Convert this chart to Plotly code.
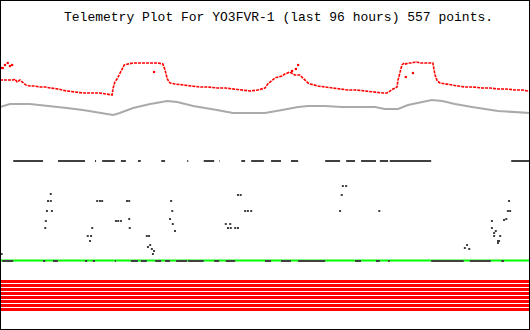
import plotly.graph_objects as go

# ---- data (time in hours over the 96 h window, values in raw telemetry units) ----
red_t = [0.0, 2.4, 2.7, 3.1, 3.6, 4.2, 4.7, 5.4, 6.3, 7.2, 8.2, 9.1, 10.5, 12.1, 13.6, 15.0, 16.7,
         18.1, 19.2, 20.3, 20.5, 20.8, 21.2, 21.4, 21.7, 22.1, 22.5, 23.2, 24.1, 25.0, 25.9, 26.8,
         27.7, 28.6, 29.5, 29.9, 30.3, 30.8, 31.7, 33.2, 34.8, 36.2, 37.7, 39.3, 40.8, 42.2, 43.8,
         45.3, 46.7, 48.0, 48.5, 48.9, 49.5, 49.8, 50.4, 51.1, 51.6, 52.2, 52.5, 53.1, 53.4, 54.3,
         54.7, 55.1, 55.3, 55.8, 56.2, 56.9, 57.6, 58.9, 60.1, 61.6, 63.0, 64.5, 66.1, 67.4, 68.5,
         69.4, 70.1, 70.6, 71.2, 71.6, 71.9, 72.1, 72.5, 72.6, 72.8, 73.2, 73.5, 73.9, 74.6, 75.2,
         75.5, 76.1, 77.0, 77.9, 78.4, 78.8, 79.2, 79.7, 80.6, 81.5, 83.0, 84.2, 85.7, 87.3, 88.8,
         90.2, 91.7, 93.3, 94.6, 95.6, 96.0]
red_v = [250, 250, 251, 248, 250, 247, 245, 244, 244, 243, 243, 242, 241, 239, 238, 237, 237,
         237, 236, 235, 242, 248, 251, 253, 256, 260, 265, 266, 267, 267, 267, 267,
         267, 267, 266, 260, 251, 247, 246, 245, 244, 243, 243, 242, 242, 241, 240,
         239, 240, 242, 246, 248, 250, 252, 253, 254, 256, 257, 258, 256, 255, 255,
         253, 250, 249, 247, 246, 245, 244, 243, 242, 241, 240, 240, 239, 238, 237,
         237, 237, 239, 241, 242, 243, 250, 260, 263, 265, 267, 266, 267, 267, 268,
         268, 267, 267, 267, 267, 255, 249, 247, 246, 245, 244, 243, 243, 242, 242,
         241, 241, 240, 240, 239, 239]
red_out_t = [0.2, 0.5, 0.9, 1.4, 1.8, 2.2, 0.0, 27.9, 53.6, 54.0, 52.9, 73.5, 74.8]
red_out_v = [262, 262, 265, 267, 264, 265, 250, 258, 261, 265, 259, 253, 257]

gray_t = [0.0, 1.8, 5.4, 9.1, 12.1, 15.0, 18.1, 20.5, 21.7, 24.1, 27.2, 30.3, 32.1, 35.0, 39.3,
          42.2, 45.8, 48.0, 51.1, 54.0, 55.8, 58.9, 61.9, 67.9, 69.7, 72.1, 73.9, 76.4, 78.2,
          80.1, 82.4, 85.5, 90.2, 96.0]
gray_v = [223, 226, 226, 224, 222, 220, 217, 215, 217, 222, 226, 229, 228, 224, 220,
          217, 217, 217, 220, 223, 224, 224, 223, 223, 221, 221, 225, 228, 230,
          229, 226, 223, 219, 217]

bit_high = 169
bit_low = 69
bit_high_spans = [(2.4, 7.8), (10.5, 15.4), (17.2, 17.4), (18.5, 20.8), (21.9, 22.8), (25.0, 25.5),
                  (29.2, 29.9), (33.9, 34.1), (36.9, 38.8), (39.7, 39.8), (43.7, 44.4), (45.5, 47.8),
                  (49.1, 50.9), (52.7, 54.0), (58.9, 61.6), (62.7, 64.3), (65.4, 68.1), (68.8, 70.3),
                  (70.6, 78.1), (92.6, 96.0)]
bit_low_spans = [(0.4, 2.4), (7.8, 8.2), (9.6, 10.5), (15.4, 15.8), (16.8, 17.2), (20.8, 21.0),
                 (23.7, 25.0), (25.5, 26.6), (28.1, 29.2), (29.9, 30.8), (31.9, 33.9), (34.1, 36.9),
                 (38.8, 39.7), (40.9, 42.6), (48.0, 49.1), (50.9, 52.7), (54.0, 58.9), (64.3, 65.4),
                 (68.1, 68.8), (70.3, 70.6), (78.1, 84.0), (85.1, 88.9), (90.8, 91.3)]

green_level = 69.5

dots_t = [9.2, 8.7, 9.2, 8.5, 9.4, 8.3, 8.2, 17.6, 18.1, 18.5, 23.0, 23.4, 21.0, 21.4, 21.9, 23.4,
          23.5, 16.7, 15.9, 16.5, 16.3, 26.6, 27.0, 27.2, 26.8, 27.5, 27.9, 27.7, 31.0, 31.2, 30.8,
          31.3, 31.7, 43.1, 43.6, 44.4, 44.9, 45.5, 40.9, 41.7, 41.3, 41.8, 42.6, 43.1, 62.1, 62.7,
          61.9, 61.6, 68.7, 84.6, 84.2, 85.0, 89.1, 89.1, 89.5, 89.8, 89.5, 90.6, 90.2, 90.4, 90.2,
          91.3, 91.7, 92.0, 92.4, 92.2, 0.3]
dots_v = [136, 129, 129, 119, 119, 109, 102, 129, 129, 129, 129, 129, 109, 109, 109, 111,
          102, 102, 94, 94, 89, 94, 94, 85, 83, 81, 79, 76, 129, 119, 111,
          106, 99, 135, 135, 119, 119, 119, 106, 106, 102, 102, 102, 102, 144, 144,
          135, 119, 119, 85, 82, 81, 109, 102, 97, 99, 94, 94, 89, 89, 87,
          110, 111, 119, 119, 129, 76]

stripe_levels = [48.5, 44.5, 40.5, 36.5, 32.5, 28.5, 24.5, 20.5]

title_text = "Telemetry Plot For YO3FVR-1 (last 96 hours) 557 points."

# ---- figure ----
T0, T1 = 0.0, 96.0
fig = go.Figure()

for lv in stripe_levels:
    fig.add_trace(go.Scatter(x=[T0, T1], y=[lv, lv], mode="lines",
                             line=dict(color="#ff0000", width=3), hoverinfo="skip"))

fig.add_trace(go.Scatter(x=[T0, T1], y=[green_level, green_level], mode="lines",
                         line=dict(color="#00ff00", width=2), hoverinfo="skip"))


def span_xy(spans, level):
    xs, ys = [], []
    for a, b in spans:
        xs += [a, b, None]
        ys += [level, level, None]
    return xs, ys


lx, ly = span_xy(bit_low_spans, bit_low)
fig.add_trace(go.Scatter(x=lx, y=ly, mode="lines", line=dict(color="#404040", width=2)))
hx, hy = span_xy(bit_high_spans, bit_high)
fig.add_trace(go.Scatter(x=hx, y=hy, mode="lines", line=dict(color="#404040", width=2)))

fig.add_trace(go.Scatter(x=dots_t, y=dots_v, mode="markers",
                         marker=dict(color="#404040", size=2, symbol="square", line=dict(width=0))))

fig.add_trace(go.Scatter(x=gray_t, y=gray_v, mode="lines",
                         line=dict(color="#aaaaaa", width=2)))

fig.add_trace(go.Scatter(x=red_t, y=red_v, mode="lines",
                         line=dict(color="#ff0000", width=1.6, dash="3px,1px")))
fig.add_trace(go.Scatter(x=red_out_t, y=red_out_v, mode="markers",
                         marker=dict(color="#ff0000", size=2.2, symbol="square", line=dict(width=0))))

fig.add_annotation(text=title_text, xref="paper", yref="paper", x=0.5255, y=1 - 17 / 330,
                   xanchor="center", yanchor="middle", showarrow=False,
                   font=dict(family="Liberation Mono", size=13, color="black"))

fig.add_shape(type="rect", xref="paper", yref="paper", x0=0, y0=0, x1=1, y1=1,
              line=dict(color="black", width=2), layer="above")

fig.update_layout(width=530, height=330, margin=dict(l=0, r=0, t=0, b=0),
                  paper_bgcolor="white", plot_bgcolor="white", showlegend=False,
                  xaxis=dict(range=[T0, T1], showgrid=False, zeroline=False,
                             showticklabels=False, showline=False, fixedrange=True),
                  yaxis=dict(range=[0, 330], showgrid=False, zeroline=False,
                             showticklabels=False, showline=False, fixedrange=True))

fig.write_html("out.html", config={"displayModeBar": False})
